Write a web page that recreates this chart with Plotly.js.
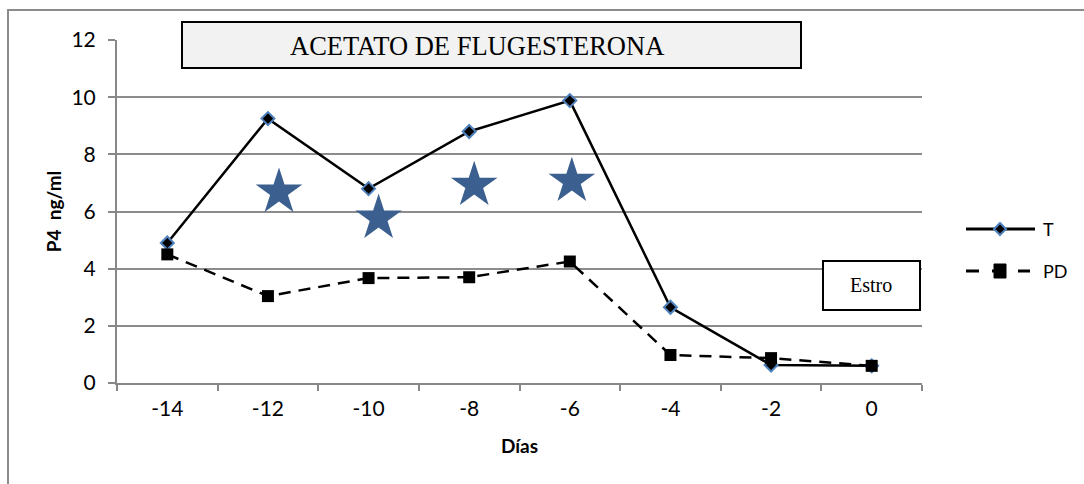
<!DOCTYPE html>
<html>
<head>
<meta charset="utf-8">
<script src="https://cdn.plot.ly/plotly-3.0.1.min.js"></script>
<style>html,body{margin:0;padding:0;background:#fff;}#chart{width:1084px;height:484px;}</style>
</head>
<body>
<div id="chart"></div>
<script>
// Data
const dias = ["-14", "-12", "-10", "-8", "-6", "-4", "-2", "0"];
const serieT = [4.9, 9.25, 6.8, 8.8, 9.88, 2.65, 0.63, 0.6];
const seriePD = [4.5, 3.04, 3.67, 3.7, 4.25, 0.98, 0.87, 0.6];
const estrellasX = [-11.78, -9.8, -7.9, -5.96];
const estrellasY = [6.68, 5.77, 6.92, 7.06];
const yTicks = [0, 2, 4, 6, 8, 10, 12];
const nombres = ["T", "PD"];

const traces = [
  {
    x: dias, y: serieT, name: nombres[0], type: "scatter", mode: "lines+markers",
    line: {color: "#000", width: 2.5},
    marker: {symbol: "diamond", size: 10, color: "#000", line: {color: "#4f81bd", width: 2}},
    showlegend: false
  },
  {
    x: dias, y: seriePD, name: nombres[1], type: "scatter", mode: "lines+markers",
    line: {color: "#000", width: 2.5, dash: "12px,8px"},
    marker: {symbol: "square", size: 12, color: "#000"},
    showlegend: false
  },
  {
    x: estrellasX, y: estrellasY, xaxis: "x2", type: "scatter", mode: "markers",
    marker: {symbol: "star", size: 35, color: "#3b5f8e"},
    showlegend: false, hoverinfo: "skip"
  }
];

// pixel -> paper helpers (plot area 117..922 x 40..383)
const PX = p => (p - 117) / 805;
const PY = p => (383 - p) / 343;

const legendShapes = [
  {type: "line", xref: "paper", yref: "paper", x0: PX(966), x1: PX(1035), y0: PY(229), y1: PY(229),
   line: {color: "#000", width: 3}},
  {type: "path", xref: "paper", yref: "paper", xsizemode: "pixel", ysizemode: "pixel",
   xanchor: PX(1000), yanchor: PY(229), path: "M0,-6 L6,0 L0,6 L-6,0 Z",
   fillcolor: "#000", line: {color: "#4f81bd", width: 2}},
  {type: "line", xref: "paper", yref: "paper", x0: PX(966), x1: PX(1030), y0: PY(271), y1: PY(271),
   line: {color: "#000", width: 3, dash: "13px,13px"}},
  {type: "rect", xref: "paper", yref: "paper", xsizemode: "pixel", ysizemode: "pixel",
   xanchor: PX(1000), yanchor: PY(271), x0: -6, x1: 6, y0: -7, y1: 7,
   fillcolor: "#000", line: {color: "#000", width: 1}}
];

const layout = {
  width: 1084, height: 484,
  margin: {l: 117, r: 162, t: 40, b: 101},
  paper_bgcolor: "#fff", plot_bgcolor: "#fff",
  font: {family: "Lato, 'Open Sans', sans-serif", color: "#000", size: 18},
  showlegend: false,
  xaxis: {
    type: "category", range: [-0.5, 7.5], tickson: "boundaries",
    showgrid: false, showline: true, linecolor: "#888", linewidth: 2,
    ticks: "outside", ticklen: 6, tickcolor: "#888", tickwidth: 2,
    tickfont: {family: "Lato, sans-serif", size: 21, color: "#000"}, zeroline: false, ticklabelstandoff: 6,
    title: {text: "<b>Días</b>", font: {size: 19}, standoff: 20}
  },
  xaxis2: {overlaying: "x", range: [-15, 1], visible: false},
  yaxis: {
    range: [0, 12], tickvals: yTicks, showgrid: true, gridcolor: "#8c8c8c", gridwidth: 2,
    showline: true, linecolor: "#888", linewidth: 2,
    ticks: "outside", ticklen: 7, tickcolor: "#888", tickwidth: 2,
    tickfont: {family: "Lato, sans-serif", size: 21, color: "#000"}, zeroline: false, ticklabelstandoff: 8,
    title: {text: "<b>P4  ng/ml</b>", font: {size: 19}, standoff: 5}
  },
  shapes: [
    {type: "rect", xref: "paper", yref: "paper", x0: PX(8), x1: PX(1100), y0: PY(500), y1: PY(10),
     line: {color: "#8c8c8c", width: 2}, fillcolor: "rgba(0,0,0,0)", layer: "below"},
    {type: "rect", xref: "paper", yref: "paper", x0: PX(182), x1: PX(801), y0: PY(68), y1: PY(22),
     line: {color: "#000", width: 2}, fillcolor: "#f2f2f2"},
    {type: "rect", xref: "paper", yref: "paper", x0: PX(823), x1: PX(920), y0: PY(310), y1: PY(261),
     line: {color: "#000", width: 2}, fillcolor: "#fff"}
  ].concat(legendShapes),
  annotations: [
    {xref: "paper", yref: "paper", x: PX(477), y: PY(46), xanchor: "center", yanchor: "middle",
     text: "ACETATO DE FLUGESTERONA", showarrow: false,
     font: {family: "'Liberation Serif', 'Times New Roman', serif", size: 26.5, color: "#000"}},
    {xref: "paper", yref: "paper", x: PX(871), y: PY(285), xanchor: "center", yanchor: "middle",
     text: "Estro", showarrow: false,
     font: {family: "'Liberation Serif', 'Times New Roman', serif", size: 20, color: "#000"}},
    {xref: "paper", yref: "paper", x: PX(1041), y: PY(229), xanchor: "left", yanchor: "middle",
     text: nombres[0], showarrow: false, font: {size: 18}},
    {xref: "paper", yref: "paper", x: PX(1041), y: PY(271), xanchor: "left", yanchor: "middle",
     text: nombres[1], showarrow: false, font: {size: 18}}
  ]
};

Plotly.newPlot("chart", traces, layout, {displayModeBar: false, staticPlot: true});
</script>
</body>
</html>
